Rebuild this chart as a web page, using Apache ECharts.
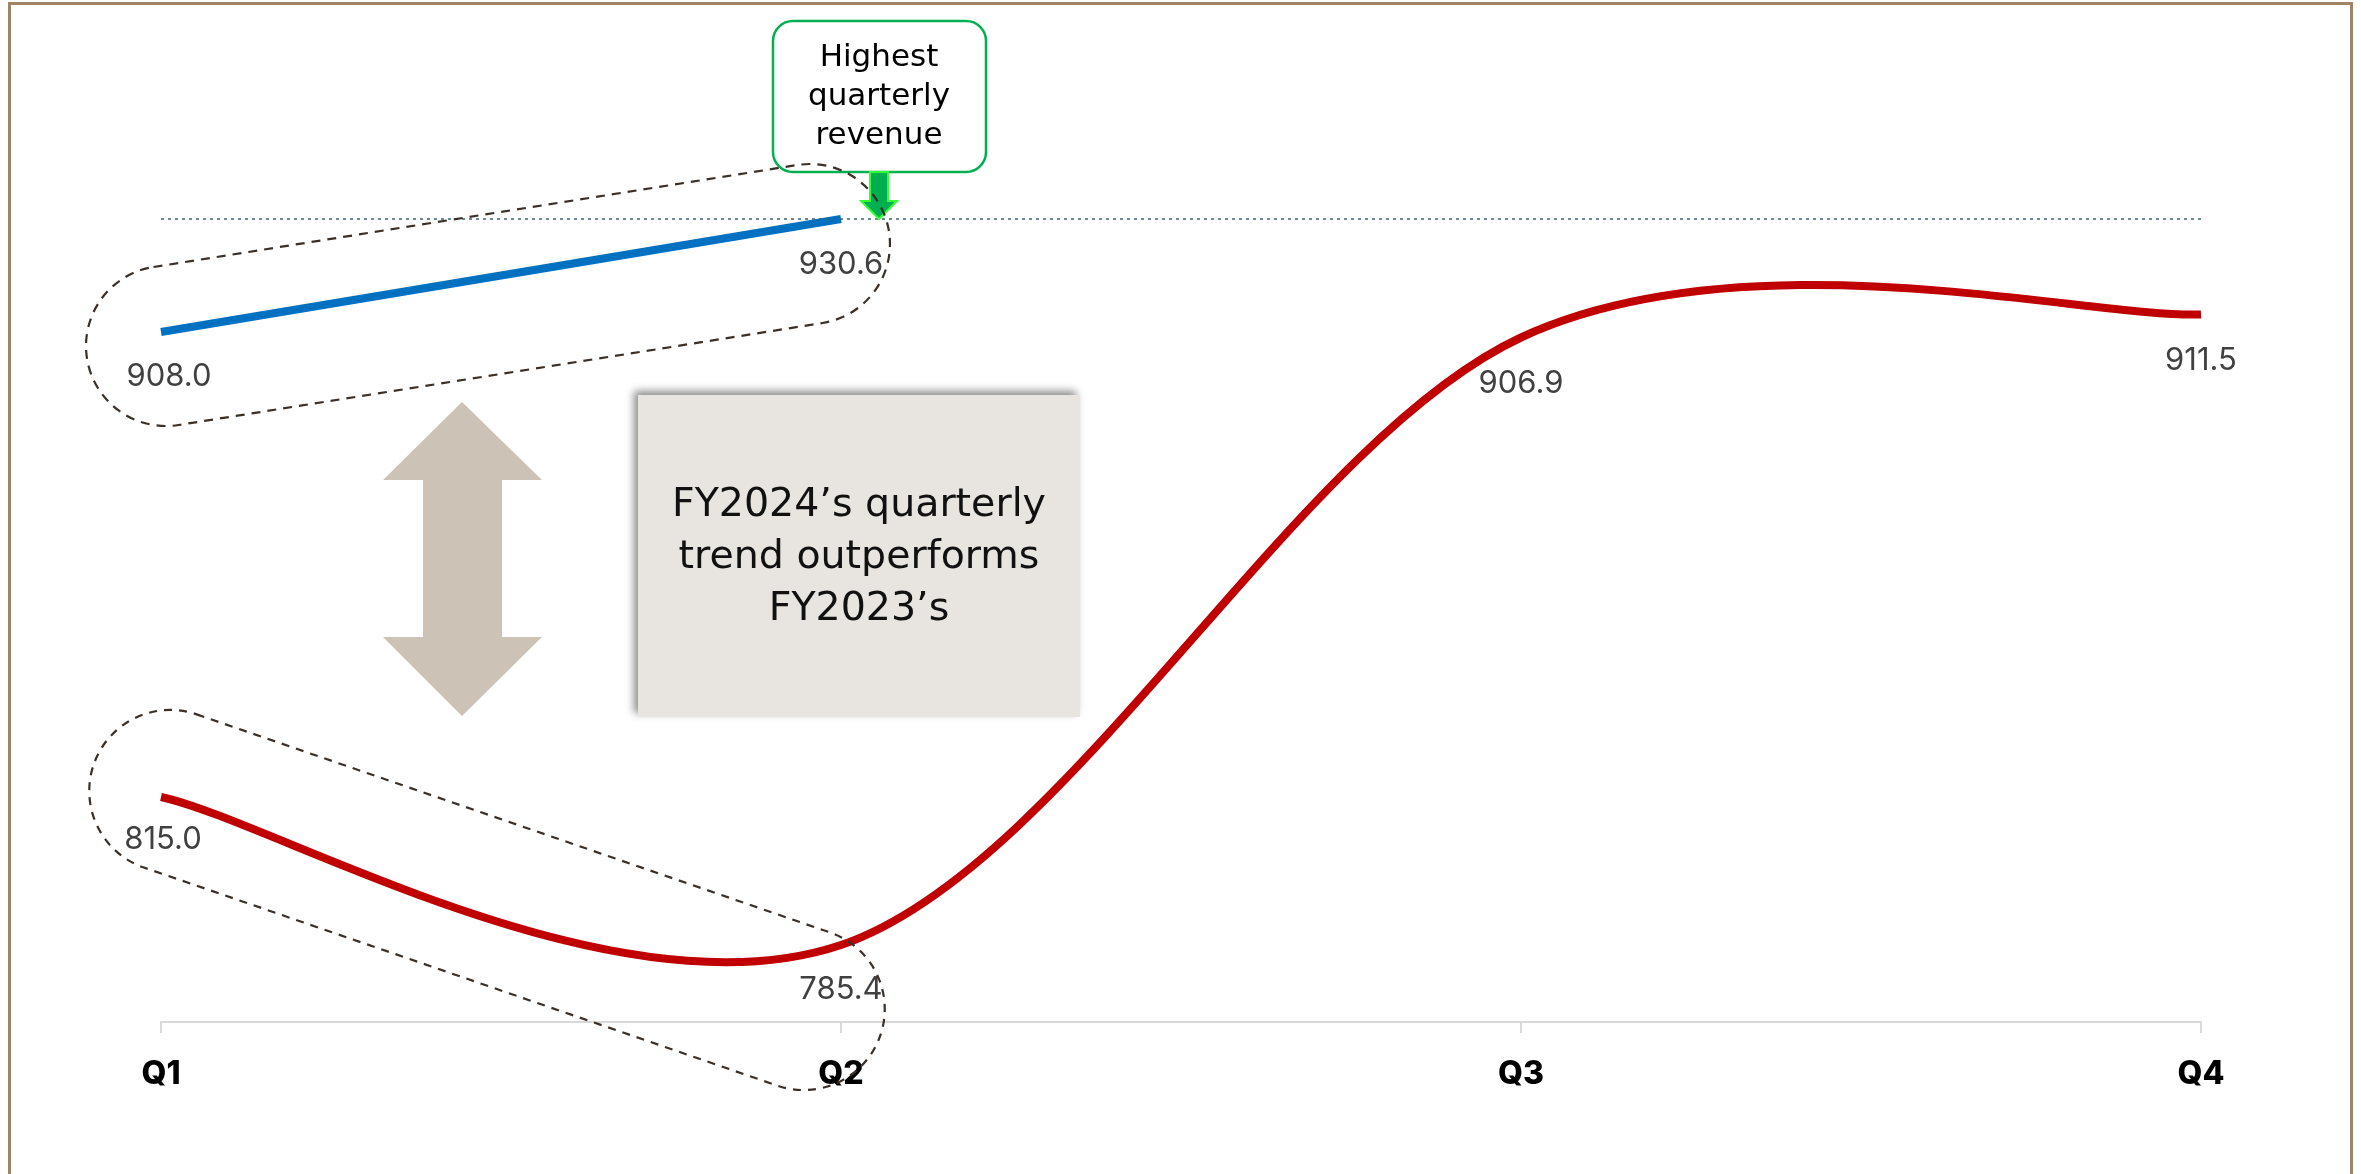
<!DOCTYPE html>
<html>
<head>
<meta charset="utf-8">
<script src="https://cdn.jsdelivr.net/npm/echarts@6/dist/echarts.min.js"></script>
<style>
html,body{margin:0;padding:0;background:#fff;}
#c{width:2361px;height:1174px;}
</style>
</head>
<body>
<div id="c"></div>
<script>
// ---- data ----
const categories = ['Q1', 'Q2', 'Q3', 'Q4'];
const fy2024 = [908.0, 930.6];
const fy2023 = [815.0, 785.4, 906.9, 911.5];
const highestValue = 930.6;
const calloutLines = ['Highest', 'quarterly', 'revenue'];
const noteLines = ['FY2024\u2019s quarterly', 'trend outperforms', 'FY2023\u2019s'];

const NUMFONT = 'Inter, "Open Sans", sans-serif';
const TXTFONT = '"DejaVu Sans", Inter, sans-serif';
const chart = echarts.init(document.getElementById('c'));
const deg = Math.PI / 180;

// per-point label offsets (pixels, relative to the point)
const off2023 = [[2, 43], [0, 45], [0, 46], [0, 46]];
const off2024 = [[8, 45], [0, 46]];

function makeSmoothSeries(name, values, color, width, offsets) {
  return {
    name: name,
    type: 'custom',
    coordinateSystem: 'cartesian2d',
    data: values.map((v, i) => [i, v]),
    encode: { x: 0, y: 1 },
    z: 3,
    silent: true,
    renderItem: function (params, api) {
      const idx = params.dataIndex;
      const children = [];
      const p = api.coord([api.value(0), api.value(1)]);
      if (idx === 0) {
        const pts = values.map((v, i) => api.coord([i, v]));
        const n = pts.length;
        let d = 'M' + pts[0][0] + ',' + pts[0][1];
        for (let i = 0; i < n - 1; i++) {
          const p0 = pts[Math.max(i - 1, 0)];
          const p1 = pts[i];
          const p2 = pts[i + 1];
          const p3 = pts[Math.min(i + 2, n - 1)];
          const c1x = p1[0] + (p2[0] - p0[0]) / 6;
          const c1y = p1[1] + (p2[1] - p0[1]) / 6;
          const c2x = p2[0] - (p3[0] - p1[0]) / 6;
          const c2y = p2[1] - (p3[1] - p1[1]) / 6;
          d += ' C' + c1x + ',' + c1y + ' ' + c2x + ',' + c2y + ' ' + p2[0] + ',' + p2[1];
        }
        children.push({
          type: 'path',
          shape: { pathData: d },
          style: { fill: null, stroke: color, lineWidth: width, lineCap: 'butt', lineJoin: 'round' }
        });
      }
      const o = offsets[idx] || [0, 45];
      children.push({
        type: 'text',
        x: p[0] + o[0], y: p[1] + o[1],
        style: {
          text: Number(api.value(1)).toFixed(1),
          fontFamily: NUMFONT, fontSize: 31, fill: '#404040',
          align: 'center', verticalAlign: 'middle'
        }
      });
      return { type: 'group', children: children };
    }
  };
}

const series2023 = makeSmoothSeries('FY2023', fy2023, '#c00000', 8, off2023);
const series2024 = makeSmoothSeries('FY2024', fy2024, '#0070c0', 8, off2024);
series2024.z = 4;

const markSeries = {
  name: 'Highest',
  type: 'line',
  data: [],
  symbol: 'none',
  lineStyle: { opacity: 0 },
  markLine: {
    silent: true,
    symbol: 'none',
    label: { show: false },
    lineStyle: { color: '#3b6275', type: [3, 4], width: 1.5 },
    data: [{ yAxis: highestValue }]
  }
};

const option = {
  backgroundColor: '#ffffff',
  animation: false,
  grid: { left: 161, right: 160, top: 122, bottom: 152 },
  xAxis: {
    type: 'category',
    data: categories,
    boundaryGap: false,
    axisLine: { lineStyle: { color: '#d9d9d9', width: 2 } },
    axisTick: { show: true, length: 11, lineStyle: { color: '#d9d9d9', width: 2 } },
    axisLabel: { fontFamily: NUMFONT, fontSize: 32, fontWeight: 800, color: '#000', margin: 36 },
    splitLine: { show: false }
  },
  yAxis: {
    type: 'value',
    min: 770,
    max: 950,
    show: false,
    splitLine: { show: false }
  },
  series: [markSeries, series2023, series2024],
  graphic: [
    // outer frame
    {
      type: 'rect', z: 1, silent: true,
      shape: { x: 9.5, y: 3.5, width: 2342, height: 1250 },
      style: { fill: null, stroke: '#a08468', lineWidth: 3 }
    },
    // callout box
    {
      type: 'rect', z: 20, silent: true,
      shape: { x: 773, y: 21, width: 213, height: 151, r: 20 },
      style: { fill: '#ffffff', stroke: '#00b050', lineWidth: 2.5 }
    },
    {
      type: 'text', z: 21, silent: true,
      x: 879, y: 97,
      style: {
        text: calloutLines.join('\n'),
        fontFamily: TXTFONT, fontSize: 31, lineHeight: 39,
        fill: '#000', align: 'center', verticalAlign: 'middle'
      }
    },
    // green arrow
    {
      type: 'polygon', z: 21, silent: true,
      shape: { points: [[870, 172], [888, 172], [888, 201], [897, 201], [879, 219], [861, 201], [870, 201]] },
      style: { fill: '#00b050', stroke: '#33ff33', lineWidth: 2 }
    },
    // double arrow
    {
      type: 'polygon', z: 5, silent: true,
      shape: { points: [[462, 402], [542, 480], [502, 480], [502, 637], [542, 637], [462, 716], [383, 637], [423, 637], [423, 480], [383, 480]] },
      style: { fill: '#cdc2b6' }
    },
    // note box
    {
      type: 'rect', z: 5, silent: true,
      shape: { x: 638, y: 395, width: 442, height: 322 },
      style: {
        fill: '#e8e4df',
        shadowColor: 'rgba(0,0,0,0.45)', shadowBlur: 8, shadowOffsetX: -4, shadowOffsetY: -4
      }
    },
    {
      type: 'text', z: 6, silent: true,
      x: 859, y: 558,
      style: {
        text: noteLines.join('\n'),
        fontFamily: TXTFONT, fontSize: 39.5, lineHeight: 52,
        fill: '#111', align: 'center', verticalAlign: 'middle'
      }
    },
    // upper dashed pill (FY2024)
    {
      type: 'rect', z: 30, silent: true,
      x: 488, y: 295, rotation: 9.0 * deg,
      shape: { x: -406, y: -80, width: 812, height: 160, r: 80 },
      style: { fill: null, stroke: '#3a3028', lineWidth: 2.2, lineDash: [9, 7] }
    },
    // lower dashed pill (FY2023 first half)
    {
      type: 'rect', z: 30, silent: true,
      x: 487, y: 900, rotation: -19.0 * deg,
      shape: { x: -416, y: -81, width: 832, height: 162, r: 81 },
      style: { fill: null, stroke: '#3a3028', lineWidth: 2.2, lineDash: [8, 7] }
    }
  ]
};
chart.setOption(option);
</script>
</body>
</html>
